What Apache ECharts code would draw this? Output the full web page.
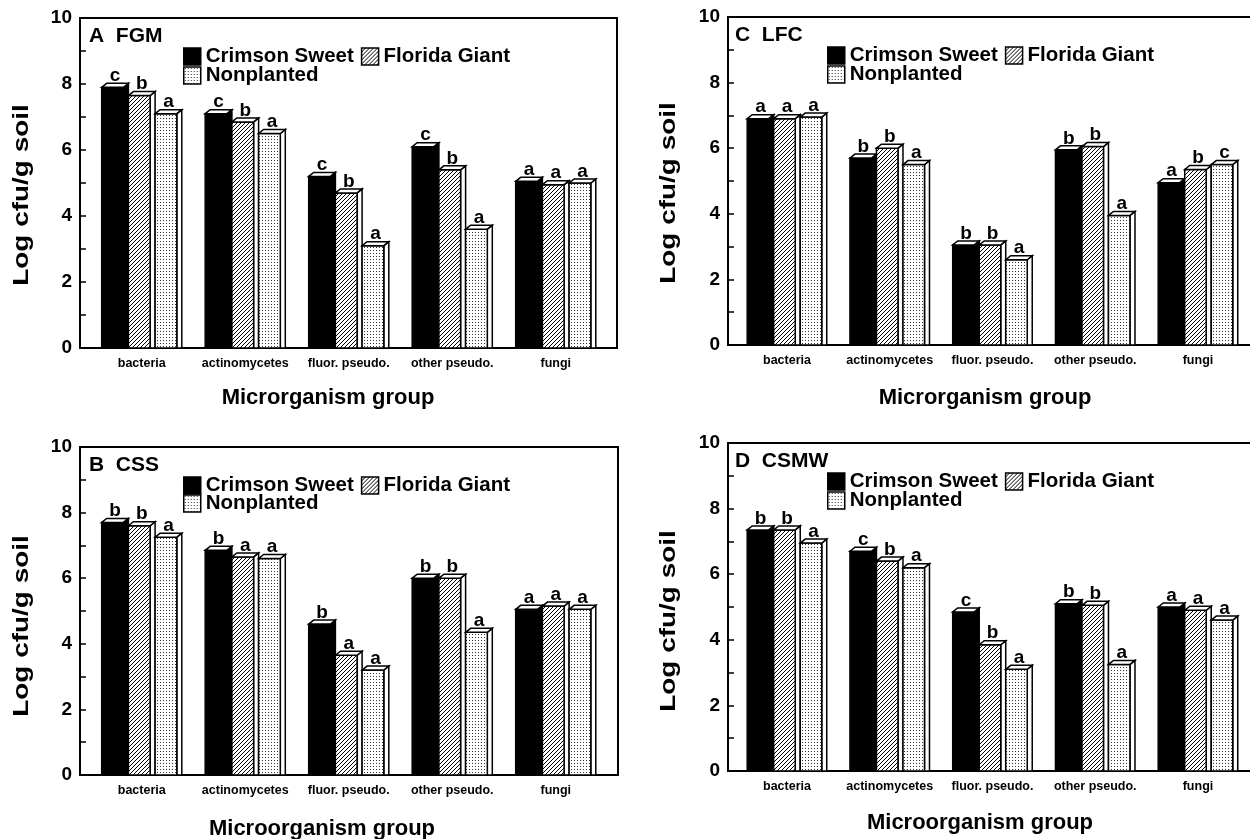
<!DOCTYPE html>
<html><head><meta charset="utf-8">
<script src="https://cdn.jsdelivr.net/npm/echarts@6/dist/echarts.min.js"></script>
<style>html,body{margin:0;padding:0;background:#fff}#c{width:1250px;height:839px}</style>
</head><body><div id="c"></div>
<script>
// ---------- data ----------
const categories = ['bacteria', 'actinomycetes', 'fluor. pseudo.', 'other pseudo.', 'fungi'];
const seriesNames = ['Crimson Sweet', 'Florida Giant', 'Nonplanted'];
const yTickLabels = ['0', '2', '4', '6', '8', '10'];

// Panel A  FGM
const fgmCrimson = [7.9, 7.1, 5.2, 6.1, 5.05];
const fgmFlorida = [7.65, 6.85, 4.7, 5.4, 4.95];
const fgmNonplanted = [7.1, 6.5, 3.1, 3.6, 5.0];
const fgmCrimsonLetters = ['c', 'c', 'c', 'c', 'a'];
const fgmFloridaLetters = ['b', 'b', 'b', 'b', 'a'];
const fgmNonplantedLetters = ['a', 'a', 'a', 'a', 'a'];

// Panel B  CSS
const cssCrimson = [7.7, 6.85, 4.6, 6.0, 5.05];
const cssFlorida = [7.6, 6.65, 3.65, 6.0, 5.15];
const cssNonplanted = [7.25, 6.6, 3.2, 4.35, 5.05];
const cssCrimsonLetters = ['b', 'b', 'b', 'b', 'a'];
const cssFloridaLetters = ['b', 'a', 'a', 'b', 'a'];
const cssNonplantedLetters = ['a', 'a', 'a', 'a', 'a'];

// Panel C  LFC
const lfcCrimson = [6.9, 5.7, 3.05, 5.95, 4.95];
const lfcFlorida = [6.9, 6.0, 3.05, 6.05, 5.35];
const lfcNonplanted = [6.95, 5.5, 2.6, 3.95, 5.5];
const lfcCrimsonLetters = ['a', 'b', 'b', 'b', 'a'];
const lfcFloridaLetters = ['a', 'b', 'b', 'b', 'b'];
const lfcNonplantedLetters = ['a', 'a', 'a', 'a', 'c'];

// Panel D  CSMW
const csmwCrimson = [7.35, 6.7, 4.85, 5.1, 5.0];
const csmwFlorida = [7.35, 6.4, 3.85, 5.05, 4.9];
const csmwNonplanted = [6.95, 6.2, 3.1, 3.25, 4.6];
const csmwCrimsonLetters = ['b', 'c', 'c', 'b', 'a'];
const csmwFloridaLetters = ['b', 'b', 'b', 'b', 'a'];
const csmwNonplantedLetters = ['a', 'a', 'a', 'a', 'a'];

// ---------- styles ----------
const FONT = '"Liberation Sans", Arial, Helvetica, sans-serif';

function hatchCanvas() {
  const n = 4;
  const c = document.createElement('canvas'); c.width = n; c.height = n;
  const g = c.getContext('2d');
  g.fillStyle = '#fff'; g.fillRect(0, 0, n, n);
  g.strokeStyle = '#000'; g.lineWidth = 1;
  g.beginPath();
  g.moveTo(0, n); g.lineTo(n, 0);
  g.moveTo(-1, 1); g.lineTo(1, -1);
  g.moveTo(n - 1, n + 1); g.lineTo(n + 1, n - 1);
  g.stroke();
  return c;
}
function dotCanvas() {
  const c = document.createElement('canvas'); c.width = 3; c.height = 3;
  const g = c.getContext('2d');
  g.fillStyle = '#fff'; g.fillRect(0, 0, 3, 3);
  g.fillStyle = '#333'; g.fillRect(1, 1, 1, 1);
  return c;
}
const fills = [
  '#000',
  { image: hatchCanvas(), repeat: 'repeat' },
  { image: dotCanvas(), repeat: 'repeat' }
];
const sideFills = ['#000', '#fff', '#fff'];

const panels = [
  { label: 'A  FGM', xName: 'Microrganism group',
    values: [fgmCrimson, fgmFlorida, fgmNonplanted],
    letters: [fgmCrimsonLetters, fgmFloridaLetters, fgmNonplantedLetters],
    frame: { left: 80, top: 18, width: 537, height: 330 }, dataLeft: 90, dataWidth: 517.5,
    legendLeft: 183, legendTop: [46, 65], labelPos: [89, 36], xNamePos: [328, 398], yNamePos: [22, 195] },
  { label: 'C  LFC', xName: 'Microrganism group',
    values: [lfcCrimson, lfcFlorida, lfcNonplanted],
    letters: [lfcCrimsonLetters, lfcFloridaLetters, lfcNonplantedLetters],
    frame: { left: 728, top: 17, width: 528, height: 328 }, dataLeft: 735.6, dataWidth: 513.75,
    legendLeft: 827, legendTop: [45, 64], labelPos: [735, 35], xNamePos: [985, 398], yNamePos: [669, 193] },
  { label: 'B  CSS', xName: 'Microorganism group',
    values: [cssCrimson, cssFlorida, cssNonplanted],
    letters: [cssCrimsonLetters, cssFloridaLetters, cssNonplantedLetters],
    frame: { left: 80, top: 447, width: 538, height: 328 }, dataLeft: 90, dataWidth: 517.5,
    legendLeft: 183, legendTop: [475, 493], labelPos: [89, 465], xNamePos: [322, 829], yNamePos: [22, 626] },
  { label: 'D  CSMW', xName: 'Microorganism group',
    values: [csmwCrimson, csmwFlorida, csmwNonplanted],
    letters: [csmwCrimsonLetters, csmwFloridaLetters, csmwNonplantedLetters],
    frame: { left: 728, top: 443, width: 528, height: 328 }, dataLeft: 735.6, dataWidth: 513.75,
    legendLeft: 827, legendTop: [471, 490], labelPos: [735, 461], xNamePos: [980, 823], yNamePos: [669, 621] }
];

function makeRender(si, letters) {
  return function (params, api) {
    const k = api.value(0), v = api.value(1);
    const p = api.coord([k, v]);
    const b = api.coord([k, 0]);
    const band = api.size([1, 0])[0];
    const slot = band * 0.258;
    const d = 5, dy = 4;
    const fw = slot - d;
    const left = p[0] - 1.5 * slot + si * slot;
    const top = p[1], bot = b[1];
    return {
      type: 'group',
      children: [
        { type: 'polygon', shape: { points: [[left + fw, top], [left + fw + d, top - dy], [left + fw + d, bot], [left + fw, bot]] },
          style: { fill: sideFills[si], stroke: '#000', lineWidth: 1.5 } },
        { type: 'rect', shape: { x: left, y: top, width: fw, height: bot - top },
          style: { fill: fills[si], stroke: '#000', lineWidth: 1.5 } },
        { type: 'polygon', shape: { points: [[left, top], [left + d, top - dy], [left + fw + d, top - dy], [left + fw, top]] },
          style: { fill: '#fff', stroke: '#000', lineWidth: 1.5 } },
        { type: 'text', style: { text: letters[params.dataIndex], x: left + (fw + d) / 2, y: top - dy + 2,
          textAlign: 'center', textVerticalAlign: 'bottom', font: 'bold 19px ' + FONT, fill: '#000' } }
      ]
    };
  };
}

const grid = [], xAxis = [], yAxis = [], series = [], legend = [], graphic = [];
panels.forEach((P, pi) => {
  const fi = pi * 2, di = pi * 2 + 1;
  grid.push({ left: P.frame.left, top: P.frame.top, width: P.frame.width, height: P.frame.height,
    show: true, borderColor: '#000', borderWidth: 2, backgroundColor: 'transparent', outerBoundsMode: 'none' });
  grid.push({ left: P.dataLeft, top: P.frame.top, width: P.dataWidth, height: P.frame.height,
    show: false, outerBoundsMode: 'none' });
  xAxis.push({ gridIndex: fi, type: 'value', show: false, min: 0, max: 1 });
  xAxis.push({ gridIndex: di, type: 'category', data: categories, boundaryGap: true,
    axisLine: { show: false }, axisTick: { show: false }, splitLine: { show: false },
    axisLabel: { interval: 0, margin: 9, color: '#000', fontFamily: FONT, fontWeight: 'bold', fontSize: 12.5 } });
  yAxis.push({ gridIndex: fi, type: 'value', min: 0, max: 10, interval: 1,
    axisLine: { show: false }, splitLine: { show: false },
    axisTick: { show: true, inside: true, length: 6, lineStyle: { color: '#000', width: 1.5 } },
    axisLabel: { margin: 8, color: '#000', fontFamily: FONT, fontWeight: 'bold', fontSize: 19,
      formatter: v => (yTickLabels.indexOf(String(v)) >= 0 ? String(v) : '') } });
  yAxis.push({ gridIndex: di, type: 'value', min: 0, max: 10, show: false });
  for (let si = 0; si < 3; si++) {
    series.push({
      type: 'custom', name: seriesNames[si], xAxisIndex: di, yAxisIndex: di,
      itemStyle: { color: fills[si], borderColor: '#000', borderWidth: 1.5 },
      encode: { x: 0, y: 1 },
      data: P.values[si].map((v, k) => [k, v]),
      renderItem: makeRender(si, P.letters[si]),
      silent: true
    });
  }
  const legendCommon = { left: P.legendLeft, orient: 'horizontal', padding: 0, itemGap: 7,
    itemWidth: 17, itemHeight: 17, icon: 'rect', selectedMode: false,
    itemStyle: { borderColor: '#000', borderWidth: 1.5 },
    textStyle: { color: '#000', fontFamily: FONT, fontWeight: 'bold', fontSize: 20.5, lineHeight: 19 } };
  legend.push(Object.assign({}, legendCommon, { top: P.legendTop[0], data: [seriesNames[0], seriesNames[1]] }));
  legend.push(Object.assign({}, legendCommon, { top: P.legendTop[1], data: [seriesNames[2]] }));
  graphic.push({ type: 'text', x: P.labelPos[0], y: P.labelPos[1],
    style: { text: P.label, textAlign: 'left', textVerticalAlign: 'middle', font: 'bold 21px ' + FONT, fill: '#000' } });
  graphic.push({ type: 'text', x: P.xNamePos[0], y: P.xNamePos[1],
    style: { text: P.xName, textAlign: 'center', textVerticalAlign: 'middle', font: 'bold 22px ' + FONT, fill: '#000' } });
  graphic.push({ type: 'text', x: P.yNamePos[0], y: P.yNamePos[1], rotation: Math.PI / 2, scaleX: 1.27,
    style: { text: 'Log cfu/g soil', textAlign: 'center', textVerticalAlign: 'middle', font: 'bold 22px ' + FONT, fill: '#000' } });
});

const chart = echarts.init(document.getElementById('c'), null, { renderer: 'canvas' });
chart.setOption({
  backgroundColor: '#fff',
  animation: false,
  grid, xAxis, yAxis, series, legend, graphic
});
</script>
</body></html>
